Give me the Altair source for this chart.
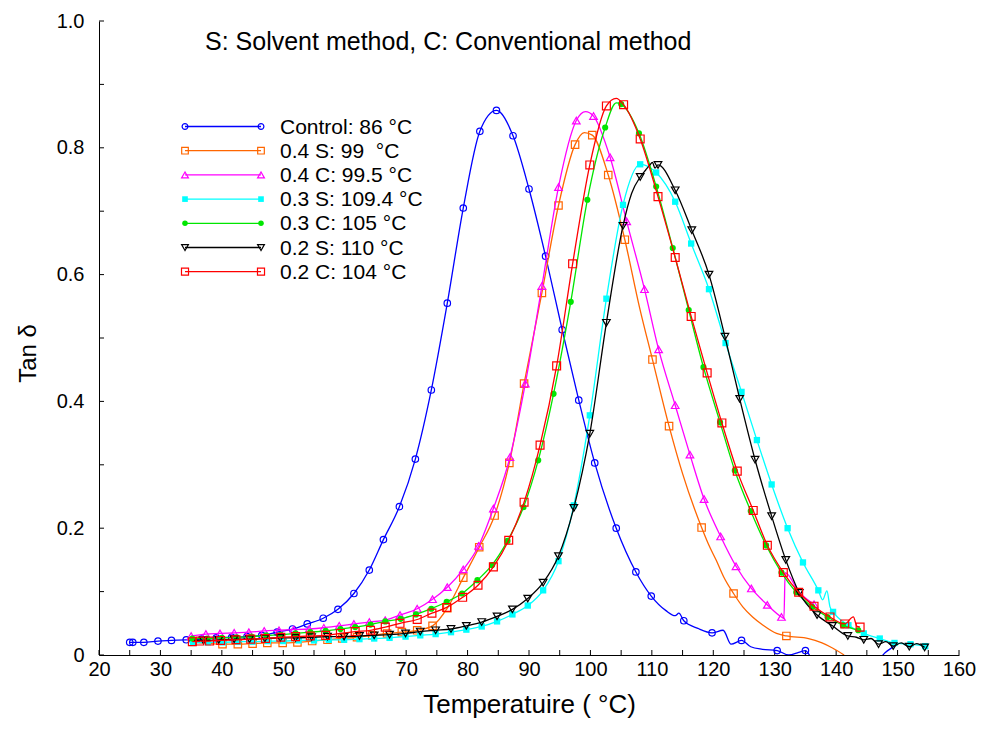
import altair as alt
import pandas as pd

FONT = "Liberation Sans"

TITLE_TEXT = "S: Solvent method, C: Conventional method"
X_TITLE = "Temperatuire ( °C)"
Y_TITLE = "Tan δ"

X_TICKS = list(range(20, 161, 5))
X_LABELS = list(range(20, 161, 10))
Y_TICKS = [0, 0.1, 0.2, 0.3, 0.4, 0.5, 0.6, 0.7, 0.8, 0.9, 1.0]
Y_LABELS = [0, 0.2, 0.4, 0.6, 0.8, 1.0]

SERIES = ["Control", "0.4 S", "0.4 C", "0.3 S", "0.3 C", "0.2 S", "0.2 C"]
LABELS = ["Control: 86 °C", "0.4 S: 99\u00a0 °C", "0.4 C: 99.5 °C", "0.3 S: 109.4 °C",
          "0.3 C: 105 °C", "0.2 S: 110 °C", "0.2 C: 104 °C"]
COLORS = ["#0000ff", "#ff6600", "#ff00ff", "#00ffff", "#00e600", "#000000", "#ff0000"]
SHAPES = ["circle", "square", "triangle-up", "square", "circle", "triangle-down", "square"]
FILLED = [False, False, False, True, True, False, False]
SIZES = [42, 55, 58, 40, 38, 58, 62]

# ---- Control (blue) ----
ctrl_t = [25.0, 25.5, 27.3, 29.6, 31.8, 34.2, 36.7, 39.1, 41.6, 44.1, 46.5, 49.0, 51.5, 53.9,
          56.5, 58.9, 61.5, 64.0, 66.3, 68.9, 71.5, 74.1, 76.7, 79.3, 82.0, 84.7, 87.4, 90.0,
          92.7, 95.4, 98.1, 100.7, 104.2, 107.4, 109.9, 115.2, 119.8, 124.6, 130.4, 135.0]
ctrl_v = [0.020, 0.020, 0.020, 0.022, 0.023, 0.024, 0.025, 0.027, 0.028, 0.029, 0.031, 0.036,
          0.041, 0.049, 0.058, 0.072, 0.097, 0.134, 0.182, 0.234, 0.309, 0.418, 0.555, 0.705,
          0.826, 0.859, 0.819, 0.735, 0.629, 0.513, 0.402, 0.303, 0.200, 0.131, 0.093, 0.054,
          0.035, 0.023, 0.007, 0.007]
ctrl_xt = [112.3, 113.8, 114.4, 117.5, 121.6, 122.9, 126.1, 128.0, 132.3, 133.9, 135.8, 137.0,
           146.5, 148.0, 149.8]
ctrl_xv = [0.070, 0.062, 0.066, 0.042, 0.039, 0.017, 0.013, 0.009, 0.000, 0.004, -0.002, -0.010,
           -0.010, 0.004, 0.016]

# ---- 0.4 S (orange) ----
s04_t = [40.1, 42.6, 45.0, 47.4, 49.9, 52.3, 54.7, 57.2, 59.6, 62.0, 64.5, 66.9, 69.3, 71.8,
         74.3, 76.7, 79.3, 81.9, 84.4, 86.8, 89.2, 92.1, 94.8, 97.5, 100.3, 102.9, 105.6,
         110.1, 112.8, 118.1, 123.3, 131.9]
s04_v = [0.017, 0.017, 0.018, 0.019, 0.019, 0.020, 0.022, 0.024, 0.026, 0.028, 0.031, 0.034,
         0.036, 0.039, 0.046, 0.074, 0.122, 0.170, 0.220, 0.303, 0.428, 0.571, 0.709, 0.805,
         0.820, 0.757, 0.655, 0.466, 0.361, 0.201, 0.097, 0.030]
s04_xt = [35.8, 38.0, 99.0, 108.0, 115.0, 119.2, 120.5, 121.7, 124.8, 126.4, 128.1, 130.3,
          135.5, 137.7, 139.4, 141.3]
s04_xv = [0.020, 0.018, 0.824, 0.548, 0.286, 0.175, 0.149, 0.123, 0.076, 0.060, 0.047, 0.034,
          0.026, 0.019, 0.011, 0.000]

# ---- 0.4 C (magenta) ----
c04_t = [35.0, 37.4, 39.7, 42.0, 44.4, 46.9, 49.3, 51.7, 54.2, 56.6, 59.1, 61.5, 64.0, 66.6,
         69.0, 71.8, 74.3, 76.7, 79.3, 81.8, 84.2, 86.9, 89.4, 92.1, 94.8, 97.7, 100.5, 103.2,
         105.9, 108.8, 111.1, 113.8, 116.2, 118.5, 121.2, 123.7, 126.2, 128.8, 131.1, 136.4]
c04_v = [0.030, 0.033, 0.034, 0.035, 0.036, 0.038, 0.039, 0.040, 0.041, 0.043, 0.046, 0.049,
         0.052, 0.055, 0.063, 0.073, 0.088, 0.107, 0.135, 0.172, 0.231, 0.312, 0.428, 0.582,
         0.738, 0.843, 0.850, 0.785, 0.684, 0.577, 0.482, 0.394, 0.316, 0.246, 0.187, 0.140,
         0.105, 0.079, 0.060, 0.080]
c04_xt = [99.2, 131.5, 131.7, 133.9]
c04_xv = [0.857, 0.058, 0.130, 0.100]

# ---- 0.3 S (cyan) ----
s03_t = [35.3, 37.7, 40.2, 42.6, 45.0, 47.5, 50.0, 52.5, 55.0, 57.4, 59.9, 62.4, 64.8, 67.3,
         69.9, 72.3, 74.8, 77.3, 79.8, 82.3, 84.8, 87.3, 89.8, 92.3, 94.8, 97.3, 99.9, 102.6,
         105.3, 108.1, 110.7, 113.8, 116.4, 119.3, 122.0, 124.6, 127.1, 129.5, 132.1, 134.6,
         137.1, 139.5, 142.0, 144.5, 147.1, 149.5, 152.1, 154.5]
s03_v = [0.019, 0.020, 0.020, 0.021, 0.021, 0.022, 0.022, 0.023, 0.023, 0.024, 0.024, 0.025,
         0.026, 0.027, 0.029, 0.031, 0.033, 0.036, 0.040, 0.045, 0.053, 0.064, 0.078, 0.102,
         0.148, 0.236, 0.378, 0.562, 0.710, 0.774, 0.761, 0.715, 0.649, 0.577, 0.492, 0.415,
         0.339, 0.269, 0.200, 0.146, 0.102, 0.068, 0.047, 0.034, 0.026, 0.019, 0.017, 0.014]
s03_xt = [137.8, 138.5, 139.0]
s03_xv = [0.087, 0.101, 0.076]

# ---- 0.3 C (green) ----
c03_t = [35.2, 37.6, 40.0, 42.4, 44.8, 47.2, 49.6, 52.0, 54.4, 56.9, 59.3, 61.7, 64.2, 66.6,
         69.1, 71.6, 74.1, 76.6, 79.1, 81.6, 84.0, 86.5, 89.1, 91.5, 94.0, 96.8, 99.5, 102.4,
         105.0, 107.9, 110.7, 113.4, 116.0, 118.4, 121.1, 123.5, 126.1, 128.6, 131.1, 133.5,
         136.1, 138.6, 141.1, 143.6]
c03_v = [0.026, 0.026, 0.027, 0.028, 0.029, 0.031, 0.032, 0.034, 0.036, 0.038, 0.041, 0.044,
         0.048, 0.053, 0.057, 0.064, 0.073, 0.084, 0.097, 0.118, 0.142, 0.180, 0.233, 0.307,
         0.412, 0.557, 0.718, 0.832, 0.869, 0.823, 0.739, 0.642, 0.544, 0.454, 0.367, 0.291,
         0.227, 0.173, 0.130, 0.099, 0.076, 0.060, 0.047, 0.039]
c03_xt = [104.2]
c03_xv = [0.871]

# ---- 0.2 S (black) ----
s02_t = [37.0, 39.5, 42.0, 44.5, 47.0, 49.5, 52.0, 54.6, 57.2, 59.9, 62.4, 64.8, 67.3, 69.9,
         72.3, 74.8, 77.3, 79.8, 82.3, 84.8, 87.3, 89.8, 92.3, 94.8, 97.3, 99.9, 102.6, 105.3,
         108.1, 111.0, 113.8, 116.5, 119.3, 121.9, 124.3, 126.8, 129.5, 131.8, 134.0, 136.9,
         139.4, 141.9, 144.5, 146.9, 149.3, 151.9, 154.4]
s02_v = [0.023, 0.024, 0.025, 0.025, 0.026, 0.027, 0.027, 0.028, 0.029, 0.029, 0.030, 0.031,
         0.032, 0.034, 0.037, 0.039, 0.041, 0.046, 0.052, 0.061, 0.072, 0.089, 0.114, 0.156,
         0.232, 0.349, 0.524, 0.677, 0.754, 0.773, 0.733, 0.670, 0.600, 0.502, 0.404, 0.308,
         0.219, 0.150, 0.098, 0.063, 0.046, 0.030, 0.024, 0.017, 0.014, 0.013, 0.012]
s02_xt = [35.5, 106.7, 109.0, 109.6, 110.1, 110.5, 143.3, 145.7, 148.1, 150.6, 153.1]
s02_xv = [0.023, 0.728, 0.765, 0.772, 0.777, 0.768, 0.028, 0.026, 0.021, 0.019, 0.018]

# ---- 0.2 C (red) ----
c02_t = [35.2, 36.4, 38.0, 39.8, 42.3, 44.7, 47.1, 49.6, 52.0, 54.4, 56.9, 59.3, 61.7, 64.2,
         66.6, 69.0, 71.8, 74.2, 76.6, 79.2, 81.7, 84.2, 86.7, 89.2, 91.8, 94.5, 97.1, 99.9,
         102.6, 105.4, 108.1, 111.0, 113.8, 116.4, 119.0, 121.4, 123.9, 126.5, 128.8, 131.4,
         133.9, 136.4, 139.0, 141.4, 143.9]
c02_v = [0.021, 0.022, 0.022, 0.023, 0.024, 0.025, 0.026, 0.028, 0.029, 0.030, 0.031, 0.034,
         0.037, 0.039, 0.044, 0.050, 0.056, 0.066, 0.075, 0.091, 0.110, 0.139, 0.181, 0.241,
         0.331, 0.456, 0.617, 0.773, 0.866, 0.868, 0.814, 0.723, 0.627, 0.534, 0.445, 0.366,
         0.290, 0.228, 0.173, 0.130, 0.099, 0.077, 0.060, 0.049, 0.044]
c02_xt = [104.2, 142.8, 143.4]
c02_xv = [0.878, 0.060, 0.045]

DATA = [
    (ctrl_t, ctrl_v, ctrl_xt, ctrl_xv),
    (s04_t, s04_v, s04_xt, s04_xv),
    (c04_t, c04_v, c04_xt, c04_xv),
    (s03_t, s03_v, s03_xt, s03_xv),
    (c03_t, c03_v, c03_xt, c03_xv),
    (s02_t, s02_v, s02_xt, s02_xv),
    (c02_t, c02_v, c02_xt, c02_xv),
]

W, H = 860, 634

X = alt.X("T:Q", scale=alt.Scale(domain=[20, 160], nice=False, zero=False),
          axis=alt.Axis(values=X_LABELS, title=X_TITLE, titleFont=FONT, titleFontSize=26,
                        titleFontWeight="normal", titleColor="black", labelFont=FONT,
                        labelFontSize=20, labelColor="black", ticks=False, tickSize=0,
                        domainColor="black", domainWidth=1, grid=False, labelPadding=4,
                        titlePadding=12, labelFlush=False))
Y = alt.Y("v:Q", scale=alt.Scale(domain=[0, 1], nice=False, zero=False),
          axis=alt.Axis(values=Y_LABELS, title=Y_TITLE, titleFont=FONT, titleFontSize=24,
                        titleFontWeight="normal", titleColor="black", labelFont=FONT,
                        labelFontSize=20, labelColor="black", ticks=False, tickSize=0,
                        domainColor="black", domainWidth=1, grid=False, labelPadding=15,
                        titlePadding=16, titleY=332, labelFlush=False,
                        labelExpr="datum.value == 0 ? '0' : format(datum.value, '.1f')"))

layers = []

# inward ticks
xt_df = pd.DataFrame({"T": X_TICKS})
yt_df = pd.DataFrame({"v": Y_TICKS})
layers.append(alt.Chart(xt_df).mark_rule(color="black", strokeWidth=1).encode(
    x=X, y=alt.value(H), y2=alt.value(H - 5)))
layers.append(alt.Chart(yt_df).mark_rule(color="black", strokeWidth=1).encode(
    y=Y, x=alt.value(0), x2=alt.value(5)))

for i, name in enumerate(SERIES):
    t, v, xt, xv = DATA[i]
    df = pd.DataFrame({
        "T": list(t) + list(xt),
        "v": list(v) + list(xv),
        "m": [1] * len(t) + [0] * len(xt),
    }).sort_values("T")
    base = alt.Chart(df)
    layers.append(base.mark_line(color=COLORS[i], strokeWidth=1.3, clip=True,
                                 interpolate="monotone").encode(x=X, y=Y, order="T:Q"))
    layers.append(base.transform_filter("datum.m == 1").mark_point(
        shape=SHAPES[i], filled=FILLED[i], color=COLORS[i], size=SIZES[i],
        strokeWidth=1.2, opacity=1, clip=True).encode(x=X, y=Y))

# legend
LEG_Y0, LEG_DY = 105.5, 24.2
for i, name in enumerate(SERIES):
    ly = LEG_Y0 + LEG_DY * i
    ldf = pd.DataFrame({"label": [LABELS[i]]})
    lb = alt.Chart(ldf)
    layers.append(lb.mark_rule(color=COLORS[i], strokeWidth=1.3).encode(
        x=alt.value(86), x2=alt.value(162), y=alt.value(ly)))
    for px in (86, 162):
        layers.append(lb.mark_point(shape=SHAPES[i], filled=FILLED[i], color=COLORS[i],
                                    size=SIZES[i] * 0.8, strokeWidth=1.2, opacity=1).encode(
            x=alt.value(px), y=alt.value(ly)))
    layers.append(lb.mark_text(align="left", baseline="middle", font=FONT, fontSize=21,
                               color="black").encode(
        x=alt.value(181), y=alt.value(ly + 1), text="label:N"))

# title inside plot
tdf = pd.DataFrame({"label": [TITLE_TEXT]})
layers.append(alt.Chart(tdf).mark_text(align="left", baseline="middle", font=FONT,
                                        fontSize=25, color="black").encode(
    x=alt.value(106), y=alt.value(21), text="label:N"))

chart = alt.layer(*layers).properties(
    width=W, height=H,
    padding={"left": 91, "top": 13, "right": 17, "bottom": 73},
    autosize=alt.AutoSizeParams(type="none"),
).configure_view(stroke=None)

chart.save("out.html", embed_options={"renderer": "svg", "actions": False})
